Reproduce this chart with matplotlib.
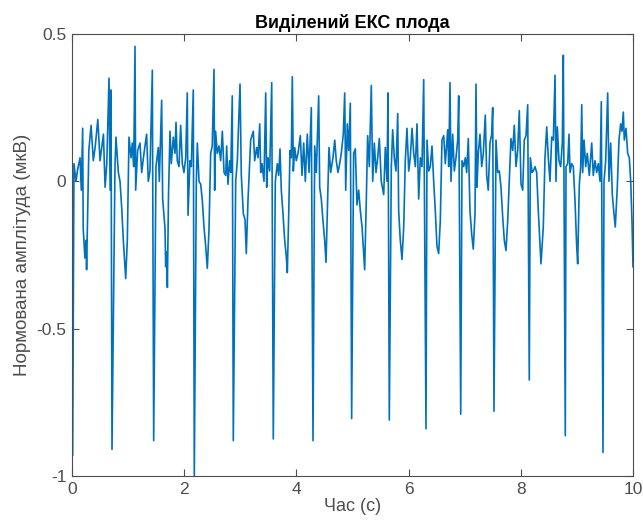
import matplotlib
matplotlib.use('Agg')
import matplotlib.pyplot as plt

plt.rcParams['font.family'] = ['Liberation Sans', 'DejaVu Sans']
plt.rcParams['axes.unicode_minus'] = False

# extracted fetal ECG
time_s = [
    0.0, 0.012, 0.035, 0.071, 0.10, 0.143, 0.166, 0.19, 0.20, 0.23, 0.25, 0.26,
    0.30, 0.34, 0.38, 0.415, 0.46, 0.50, 0.56, 0.59, 0.62, 0.66, 0.68, 0.695,
    0.713, 0.766, 0.784, 0.826, 0.856, 0.886, 0.915, 0.957, 0.986, 1.016, 1.052,
    1.075, 1.10, 1.123, 1.135, 1.17, 1.212, 1.242, 1.283, 1.33, 1.36, 1.39,
    1.432, 1.456, 1.497, 1.538, 1.556, 1.598, 1.616, 1.658, 1.67, 1.688, 1.70,
    1.72, 1.747, 1.77, 1.806, 1.836, 1.854, 1.877, 1.907, 1.937, 1.966, 1.996,
    2.027, 2.055, 2.068, 2.103, 2.127, 2.162, 2.18, 2.216, 2.234, 2.264, 2.294,
    2.323, 2.353, 2.383, 2.412, 2.442, 2.472, 2.50, 2.531, 2.543, 2.56, 2.59,
    2.62, 2.65, 2.68, 2.71, 2.74, 2.757, 2.78, 2.81, 2.83, 2.857, 2.875, 2.918,
    2.947, 2.995, 3.018, 3.054, 3.084, 3.107, 3.137, 3.16, 3.185, 3.232, 3.256,
    3.292, 3.316, 3.346, 3.364, 3.387, 3.422, 3.453, 3.47, 3.494, 3.524, 3.56,
    3.588, 3.624, 3.66, 3.684, 3.708, 3.731, 3.761, 3.791, 3.82, 3.838, 3.863,
    3.886, 3.909, 3.927, 3.945, 3.97, 3.998, 4.029, 4.07, 4.10, 4.13, 4.159,
    4.194, 4.225, 4.266, 4.296, 4.326, 4.355, 4.397, 4.415, 4.444, 4.474, 4.504,
    4.528, 4.551, 4.581, 4.611, 4.652, 4.683, 4.711, 4.741, 4.772, 4.80, 4.836,
    4.861, 4.879, 4.907, 4.932, 4.961, 4.985, 5.02, 5.05, 5.08, 5.11, 5.14,
    5.17, 5.20, 5.217, 5.246, 5.27, 5.30, 5.335, 5.36, 5.389, 5.419, 5.449,
    5.478, 5.513, 5.556, 5.585, 5.615, 5.633, 5.656, 5.692, 5.716, 5.745, 5.775,
    5.806, 5.823, 5.852, 5.882, 5.913, 5.941, 5.971, 6.002, 6.03, 6.061, 6.091,
    6.12, 6.15, 6.18, 6.209, 6.239, 6.269, 6.31, 6.328, 6.358, 6.387, 6.417,
    6.447, 6.476, 6.506, 6.536, 6.565, 6.595, 6.626, 6.654, 6.697, 6.715, 6.738,
    6.756, 6.786, 6.815, 6.845, 6.875, 6.893, 6.929, 6.952, 6.982, 7.011, 7.035,
    7.064, 7.094, 7.125, 7.153, 7.184, 7.201, 7.219, 7.242, 7.273, 7.303, 7.332,
    7.367, 7.392, 7.42, 7.451, 7.481, 7.499, 7.522, 7.558, 7.588, 7.617, 7.647,
    7.677, 7.706, 7.736, 7.766, 7.795, 7.825, 7.856, 7.884, 7.914, 7.945, 7.973,
    8.004, 8.034, 8.062, 8.093, 8.123, 8.151, 8.17, 8.20, 8.223, 8.253, 8.283,
    8.312, 8.36, 8.401, 8.431, 8.462, 8.49, 8.52, 8.551, 8.58, 8.61, 8.627,
    8.651, 8.681, 8.711, 8.74, 8.758, 8.793, 8.806, 8.836, 8.859, 8.877, 8.907,
    8.936, 8.966, 8.996, 9.014, 9.043, 9.068, 9.086, 9.103, 9.127, 9.157, 9.185,
    9.221, 9.264, 9.292, 9.323, 9.353, 9.381, 9.412, 9.435, 9.465, 9.483, 9.513,
    9.549, 9.572, 9.602, 9.631, 9.661, 9.684, 9.72, 9.75, 9.78, 9.804, 9.827,
    9.845, 9.875, 9.905, 9.934, 9.959, 9.982, 10.0,
]
amplitude = [
    0.0, -0.93, 0.06, 0.0, 0.04, 0.08, -0.03, 0.18, -0.16, -0.26, -0.20, -0.30,
    0.105, 0.19, 0.07, 0.12, 0.21, 0.07, 0.16, -0.02, 0.06, 0.35, -0.03, 0.31,
    -0.91, 0.05, 0.15, 0.03, 0.0, -0.09, -0.20, -0.33, -0.20, 0.15, 0.08,
    0.13, 0.05, 0.458, -0.03, 0.105, 0.13, 0.03, 0.095, 0.16, 0.0, 0.035,
    0.377, -0.88, 0.05, 0.115, 0.0, 0.275, -0.06, -0.16, -0.29, -0.24, -0.36,
    -0.05, 0.17, 0.06, 0.15, 0.095, 0.20, 0.07, 0.05, 0.19, 0.06, 0.03,
    0.08, 0.30, -0.115, 0.07, 0.05, 0.31, -1.0, 0.0, 0.13, 0.0, -0.01,
    -0.065, -0.155, -0.22, -0.295, -0.165, 0.095, 0.12, 0.38, -0.03, 0.17, 0.095,
    0.12, 0.07, 0.17, 0.03, 0.02, 0.12, -0.01, 0.07, 0.03, 0.29, -0.88, 0.0,
    0.07, 0.33, 0.02, -0.11, -0.13, -0.245, -0.065, 0.03, 0.14, 0.17, 0.07,
    0.115, 0.08, 0.195, 0.03, 0.06, 0.0, 0.30, -0.02, 0.08, 0.035, 0.335,
    -0.874, 0.0, 0.06, 0.02, 0.11, -0.03, -0.11, -0.20, -0.255, -0.31, -0.11,
    0.105, 0.08, 0.355, 0.035, 0.115, 0.07, 0.095, 0.155, 0.02, 0.13, 0.0,
    0.16, 0.03, 0.25, -0.88, 0.12, 0.03, 0.29, -0.02, -0.06, -0.135, -0.20,
    -0.275, -0.11, 0.115, 0.03, 0.08, 0.14, 0.07, 0.03, 0.06, 0.095, 0.16,
    0.30, -0.03, 0.195, 0.105, 0.265, -0.805, 0.095, 0.11, -0.08, -0.03, -0.10,
    -0.155, -0.245, -0.30, -0.065, 0.155, 0.05, 0.325, 0.0, 0.13, 0.03, 0.08,
    0.145, 0.0, -0.045, 0.115, 0.0, 0.30, -0.81, 0.05, 0.175, 0.08, 0.035,
    0.23, -0.10, -0.20, -0.265, -0.155, 0.07, 0.18, 0.035, 0.08, 0.18, 0.095,
    0.05, 0.195, -0.06, 0.08, 0.05, 0.345, -0.84, 0.14, 0.035, 0.05, 0.12,
    0.0, -0.10, -0.22, -0.245, -0.135, 0.14, 0.155, 0.06, 0.175, 0.05, 0.335,
    0.0, 0.16, 0.035, 0.08, 0.14, 0.29, -0.79, 0.07, 0.05, 0.08, 0.03,
    0.145, -0.10, -0.18, -0.23, -0.11, 0.33, -0.02, 0.095, 0.16, 0.05, 0.095,
    0.225, 0.02, -0.03, 0.13, 0.16, 0.25, -0.78, 0.14, 0.03, 0.035, -0.02,
    -0.12, -0.20, -0.235, -0.135, 0.0, 0.145, 0.105, 0.19, 0.05, 0.105, 0.24,
    -0.01, -0.03, 0.14, 0.155, 0.26, -0.674, 0.08, 0.03, 0.035, 0.05, 0.03,
    -0.10, -0.28, -0.155, 0.08, 0.185, 0.08, 0.0, 0.15, 0.14, 0.36, 0.0,
    0.185, 0.07, 0.05, 0.13, 0.428, -0.863, 0.05, 0.06, 0.16, 0.03, 0.06,
    0.05, -0.065, -0.22, -0.28, -0.01, 0.05, 0.26, 0.03, 0.14, 0.05, 0.095,
    0.02, 0.13, 0.02, 0.07, 0.03, 0.06, 0.0, 0.27, -0.92, 0.0, 0.07,
    0.30, 0.0, 0.13, -0.045, -0.11, -0.155, -0.02, 0.14, 0.195, 0.17, 0.235,
    0.14, 0.18, 0.095, 0.08, 0.0, -0.135, -0.29,
]

x_ticks = [0, 2, 4, 6, 8, 10]
y_ticks = [-1, -0.5, 0, 0.5]
y_tick_labels = ['-1', '-0.5', '0', '0.5']

fig = plt.figure(figsize=(6.43, 5.22), dpi=100)
ax = fig.add_axes([72 / 643, 1 - 476 / 522, 561 / 643, 442 / 522])

ax.plot(time_s, amplitude, color='#0072BD', lw=1.2)

ax.set_xlim(0, 10)
ax.set_ylim(-1, 0.5)
ax.set_xticks(x_ticks)
ax.set_yticks(y_ticks)
ax.set_yticklabels(y_tick_labels)

grey = '#4d4d4d'
for s in ax.spines.values():
    s.set_color(grey)
    s.set_linewidth(0.8)
ax.tick_params(direction='in', length=5, width=0.8, color=grey,
               labelcolor=grey, labelsize=12.5, top=True, right=True, pad=4)

ax.set_title('Виділений ЕКС плода', fontsize=13, fontweight='bold', pad=4)
ax.set_xlabel('Час (с)', fontsize=13, color=grey, labelpad=1)
ax.set_ylabel('Нормована амплітуда (мкВ)', fontsize=13.5, color=grey, labelpad=4)

fig.savefig('out.png', dpi=100)
